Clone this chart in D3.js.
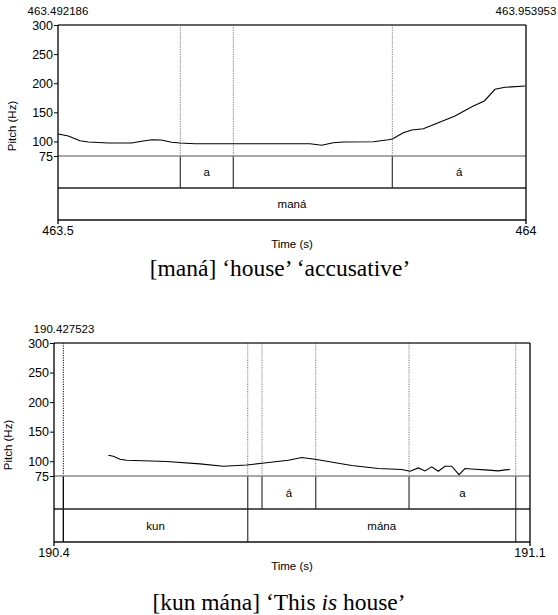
<!DOCTYPE html>
<html><head><meta charset="utf-8">
<script src="https://cdn.jsdelivr.net/npm/d3@7"></script>
<style>body{margin:0;background:#fff}svg{display:block}</style>
</head><body>
<svg id="c" width="558" height="615"></svg>
<script>
// ---------- DATA ----------
const yTicks = [300, 250, 200, 150, 100, 75];

// Panel 1: [maná]
const p1Times = [463.5003,463.511,463.5235,463.5324,463.5537,463.5787,463.5894,463.6001,463.6100,463.6215,463.6303,463.6464,463.6784,463.7692,463.7817,463.7941,463.8048,463.8369,463.8529,463.8572,463.8689,463.8779,463.8903,463.9063,463.9241,463.9437,463.9555,463.9669,463.9776,463.9989];
const p1Pitch = [112.8,109.3,101.3,99.0,97.3,97.3,100.2,103.0,102.5,98.5,97.3,96.1,96.1,96.1,93.4,97.8,99.0,99.5,103.0,104.2,115.0,119.7,121.9,132.2,143.7,160.9,169.5,189.6,193.0,195.2];
const p1Tier1Bounds = [463.6307, 463.6873, 463.8572];
const p1Tier1Labels = [["a", 463.6307, 463.6873], ["á", 463.8572, 464.0]];
const p1Tier2Bounds = [];
const p1Tier2Labels = [["maná", 463.5, 464.0]];
const p1XLabels = ["463.5", "464"];
const p1TopLabels = ["463.492186", "463.953953"];
const p1Caption = "[maná] ‘house’ ‘accusative’";

// Panel 2: [kun mána]
const p2Times = [190.4799,190.4872,190.4971,190.5069,190.5657,190.6147,190.6490,190.6834,190.7029,190.7446,190.7643,190.7838,190.8378,190.8769,190.9113,190.9235,190.9357,190.9456,190.9554,190.9651,190.9750,190.9849,190.9956,191.0044,191.0191,191.0338,191.0534,191.0632,191.0706];
const p2Pitch = [110.2,108.5,103.4,101.7,99.5,95.5,91.5,93.7,96.1,101.7,106.3,103.4,92.7,87.6,85.9,83.0,88.7,83.6,90.4,83.0,91.5,91.5,77.4,87.6,86.4,85.3,83.6,85.3,85.9];
const p2Tier1Bounds = [190.4137, 190.6849, 190.7059, 190.7849, 190.9221, 191.0790];
const p2Tier1Labels = [["á", 190.7059, 190.7849], ["a", 190.9221, 191.0790]];
const p2Tier2Bounds = [190.4137, 190.6849, 191.0790];
const p2Tier2Labels = [["kun", 190.4137, 190.6849], ["mána", 190.6849, 191.0790]];
const p2XLabels = ["190.4", "191.1"];
const p2TopLabels = ["190.427523", ""];
const p2Caption = ["[kun mána] ‘This ", "is", " house’"];

// ---------- DRAW ----------
const svg = d3.select("#c");
const sans = "'Liberation Sans', Arial, Helvetica, sans-serif";
const serif = "'Liberation Serif', 'Times New Roman', serif";

function panel(o) {
  const g = svg.append("g");
  const x = d3.scaleLinear().domain(o.xDomain).range([o.left, o.right]);
  const y = d3.scaleLinear().domain([75, 300]).range([o.y75, o.top]);
  const t1b = o.y75 + o.tierH, t2b = t1b + o.tierH;

  o.t1Bounds.forEach(b => {
    const isDark = o.darkBounds && o.darkBounds.includes(b);
    g.append("line").attr("x1", x(b)).attr("x2", x(b)).attr("y1", o.top).attr("y2", o.y75)
      .attr("stroke", isDark ? "#000" : "#777").attr("stroke-width", 1).attr("stroke-dasharray", "1.2,1.2");
    g.append("line").attr("x1", x(b)).attr("x2", x(b)).attr("y1", o.y75).attr("y2", t1b)
      .attr("stroke", isDark ? "#000" : "#444").attr("stroke-width", 1.3);
  });
  o.t2Bounds.forEach(b => {
    const isDark = o.darkBounds && o.darkBounds.includes(b);
    g.append("line").attr("x1", x(b)).attr("x2", x(b)).attr("y1", t1b).attr("y2", t2b)
      .attr("stroke", isDark ? "#000" : "#444").attr("stroke-width", 1.3);
  });

  g.append("line").attr("x1", o.left).attr("x2", o.right).attr("y1", o.y75).attr("y2", o.y75)
    .attr("stroke", "#888").attr("stroke-width", 1.6);
  g.append("line").attr("x1", o.left).attr("x2", o.right).attr("y1", t1b).attr("y2", t1b)
    .attr("stroke", "#222").attr("stroke-width", 1.5);
  g.append("line").attr("x1", o.left).attr("x2", o.right).attr("y1", t2b).attr("y2", t2b)
    .attr("stroke", "#111").attr("stroke-width", 1.5);
  g.append("line").attr("x1", o.left).attr("x2", o.right).attr("y1", o.top).attr("y2", o.top)
    .attr("stroke", "#333").attr("stroke-width", 1.4);
  g.append("line").attr("x1", o.right).attr("x2", o.right).attr("y1", o.top).attr("y2", t2b)
    .attr("stroke", "#000").attr("stroke-width", 1.3);
  g.append("line").attr("x1", o.left).attr("x2", o.left).attr("y1", o.top).attr("y2", t2b)
    .attr("stroke", "#000").attr("stroke-width", 1.3);

  const line = d3.line().x(d => x(d[0])).y(d => y(d[1]));
  g.append("path").datum(o.times.map((t, i) => [t, o.pitch[i]]))
    .attr("d", line).attr("fill", "none").attr("stroke", "#000").attr("stroke-width", 1.1);

  const ya = g.append("g").attr("transform", `translate(${o.left},0)`)
    .call(d3.axisLeft(y).tickValues(yTicks).tickSize(4).tickPadding(1).tickFormat(d3.format("d")));
  ya.select(".domain").remove();
  ya.selectAll("text").attr("font-family", sans).attr("font-size", 12.5).attr("fill", "#000");
  ya.selectAll("line").attr("stroke", "#000");

  [o.left, o.right].forEach((px, i) => {
    g.append("line").attr("x1", px).attr("x2", px).attr("y1", t2b).attr("y2", t2b + 4).attr("stroke", "#000").attr("stroke-width", 1.3);
    g.append("text").attr("x", px).attr("y", t2b + 15).attr("text-anchor", "middle")
      .attr("font-family", sans).attr("font-size", 12.5).text(o.xLabels[i]);
  });
  g.append("text").attr("x", (o.left + o.right) / 2).attr("y", t2b + 28).attr("text-anchor", "middle")
    .attr("font-family", sans).attr("font-size", 11.5).text("Time (s)");

  g.append("text").attr("x", o.topLabelX[0]).attr("y", o.top - 10).attr("text-anchor", "middle")
    .attr("font-family", sans).attr("font-size", 11.5).text(o.topLabels[0]);
  if (o.topLabels[1]) g.append("text").attr("x", o.topLabelX[1]).attr("y", o.top - 10).attr("text-anchor", "middle")
    .attr("font-family", sans).attr("font-size", 11.5).text(o.topLabels[1]);

  g.append("text").attr("transform", `translate(${o.yTitleX},${o.yTitleY}) rotate(-90)`)
    .attr("text-anchor", "middle").attr("font-family", sans).attr("font-size", 11.5).text("Pitch (Hz)");

  o.t1Labels.forEach(([s, a, b]) => g.append("text").attr("x", (x(a) + x(b)) / 2).attr("y", o.y75 + o.tierH / 2 + 4)
    .attr("text-anchor", "middle").attr("font-family", sans).attr("font-size", 11.5).text(s));
  o.t2Labels.forEach(([s, a, b]) => g.append("text").attr("x", (x(a) + x(b)) / 2).attr("y", t1b + o.tierH / 2 + 4)
    .attr("text-anchor", "middle").attr("font-family", sans).attr("font-size", 11.5).text(s));

  return x;
}

panel({
  xDomain: [463.5, 464.0], left: 58, right: 526, top: 25, y75: 156, tierH: 32,
  times: p1Times, pitch: p1Pitch,
  t1Bounds: p1Tier1Bounds, t2Bounds: p1Tier2Bounds, t1Labels: p1Tier1Labels, t2Labels: p1Tier2Labels,
  xLabels: p1XLabels, topLabels: p1TopLabels, topLabelX: [58, 526], yTitleX: 16, yTitleY: 126
});
panel({
  xDomain: [190.4, 191.1], left: 54, right: 530, top: 343, y75: 476, tierH: 33,
  times: p2Times, pitch: p2Pitch,
  t1Bounds: p2Tier1Bounds, t2Bounds: p2Tier2Bounds, t1Labels: p2Tier1Labels, t2Labels: p2Tier2Labels,
  darkBounds: [190.4137],
  xLabels: p2XLabels, topLabels: p2TopLabels, topLabelX: [64, 530], yTitleX: 12, yTitleY: 445
});

svg.append("text").attr("x", 280).attr("y", 276).attr("text-anchor", "middle")
  .attr("font-family", serif).attr("font-size", 23.5).text(p1Caption);
const c2 = svg.append("text").attr("x", 279).attr("y", 610).attr("text-anchor", "middle")
  .attr("font-family", serif).attr("font-size", 23.5);
c2.append("tspan").text(p2Caption[0]);
c2.append("tspan").attr("font-style", "italic").text(p2Caption[1]);
c2.append("tspan").text(p2Caption[2]);
</script>
</body></html>
